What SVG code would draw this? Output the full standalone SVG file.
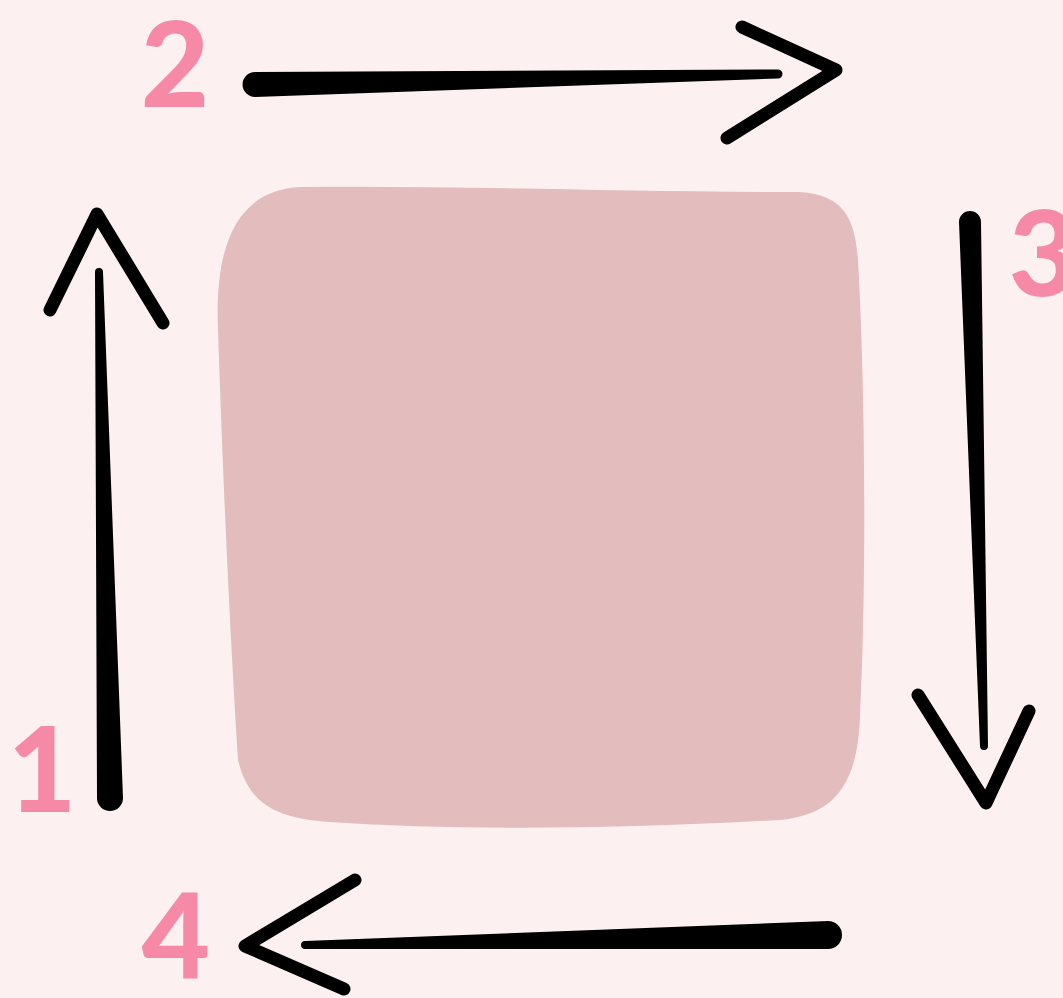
<svg xmlns="http://www.w3.org/2000/svg" width="1063" height="998" viewBox="0 0 1063 998">
<style>
.num{font-family:Lato,"Open Sans","DejaVu Sans",sans-serif;font-weight:900;font-size:118px;fill:#F68AA6;text-anchor:middle}
.shaft{fill:#000}
.head{fill:none;stroke:#000;stroke-width:13;stroke-linecap:round;stroke-linejoin:round}
</style>
<rect width="1063" height="998" fill="#FDF0F0"/>
<g id="square">
<path d="M 300,187 C 450,185 600,192 800,192 C 845,195 855,220 858,260 C 866,400 866,600 860,715 C 858,790 830,815 780,820 C 600,830 450,830 330,822 C 270,818 248,800 238,760 C 228,600 222,450 218,330 C 214,240 240,190 300,187 Z" fill="#E3BDBD"/>
</g>
<g id="labels">
<text id="n1" class="num" x="42" y="812">1</text>
<text id="n2" class="num" x="175" y="107">2</text>
<text id="n3" class="num" x="1043" y="296">3</text>
<text id="n4" class="num" x="176" y="978">4</text>
</g>
<g id="connectors">
<g id="arrow1">
<path class="shaft" d="M 97,798 L 95,272 A 4,4 0 0 1 103,272 L 123,798 A 13,13 0 0 1 97,798 Z"/>
<polyline class="head" points="50,310 97,214 163,323"/>
</g>
<g id="arrow2">
<path class="shaft" d="M 255,72 L 778,69.5 A 4.5,4.5 0 0 1 778,78.5 L 255,97 A 12.5,12.5 0 0 1 255,72 Z"/>
<polyline class="head" points="742,27 836,70 727,138"/>
</g>
<g id="arrow3">
<path class="shaft" d="M 959,222 A 11,11 0 0 1 981,222 L 988,746 A 4,4 0 0 1 980,746 Z"/>
<polyline class="head" points="918,695 986,803 1029,711"/>
</g>
<g id="arrow4">
<path class="shaft" d="M 828,921 A 14,14 0 0 1 828,949 L 305,949 A 4,4 0 0 1 305,941 Z"/>
<polyline class="head" points="355,880 245,946 344,989"/>
</g>
</g>
</svg>
